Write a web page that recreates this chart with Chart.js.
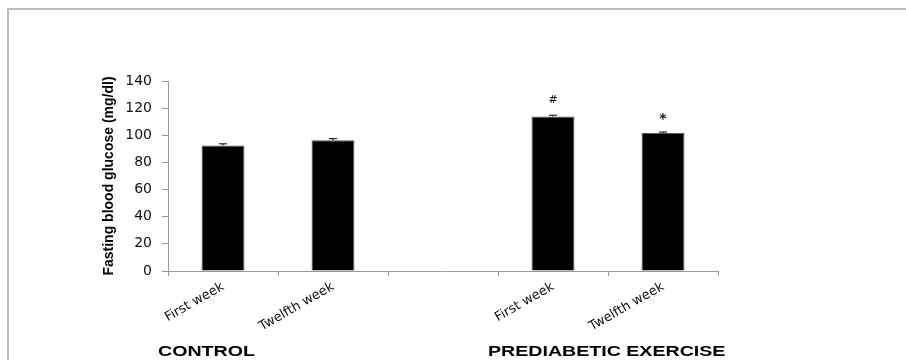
<!DOCTYPE html>
<html>
<head>
<meta charset="utf-8">
<script src="https://cdn.jsdelivr.net/npm/chart.js@4.4.0/dist/chart.umd.min.js"></script>
<style>
  html, body { margin: 0; padding: 0; background: #fff; }
  #wrap { width: 906px; height: 360px; position: relative; }
</style>
</head>
<body>
<div id="wrap"><canvas id="glucoseChart"></canvas></div>
<script>
// categories (blank slot separates the two groups)
const weeks = ['First week', 'Twelfth week', '', 'First week', 'Twelfth week'];
const glucose = [92.5, 96.3, null, 113.8, 101.6];
const sem = [1.2, 1.2, null, 1.0, 0.8];
const marks = ['', '', '', '#', '*'];
const groups = [
    { label: 'CONTROL', from: 0 },
    { label: 'PREDIABETIC EXERCISE', from: 3 }
];
const yTicks = [0, 20, 40, 60, 80, 100, 120, 140];

// thin frame round the figure
const framePlugin = {
    id: 'frame',
    beforeDraw(chart) {
        const c = chart.ctx;
        c.save();
        c.strokeStyle = '#bdbdbd';
        c.lineWidth = 2;
        c.beginPath();
        c.moveTo(8, 360);
        c.lineTo(8, 9);
        c.lineTo(906, 9);
        c.stroke();
        c.restore();
    }
};

// error bars, significance marks and group names
const extrasPlugin = {
    id: 'extras',
    afterDatasetsDraw(chart) {
        const c = chart.ctx;
        const x = chart.scales.x;
        const y = chart.scales.y;
        c.save();
        c.strokeStyle = '#000';
        c.lineWidth = 1;
        glucose.forEach((v, i) => {
            if (v === null) return;
            const px = x.getPixelForValue(i);
            const top = y.getPixelForValue(v + sem[i]);
            const base = y.getPixelForValue(v);
            c.beginPath();
            c.moveTo(px, base);
            c.lineTo(px, top);
            c.moveTo(px - 4, top);
            c.lineTo(px + 4, top);
            c.stroke();
            if (marks[i]) {
                c.fillStyle = '#111';
                c.font = (marks[i] === '*' ? 'bold 14px' : '11px') + ' "DejaVu Sans"';
                c.textAlign = 'center';
                c.textBaseline = 'middle';
                c.fillText(marks[i], px, top - (marks[i] === '*' ? 13 : 15));
            }
        });
        // group names, drawn a little wider like the original figure
        c.fillStyle = '#000';
        c.font = 'bold 14px "Liberation Sans", Arial';
        c.textAlign = 'left';
        c.textBaseline = 'alphabetic';
        groups.forEach(g => {
            const left = x.getPixelForValue(g.from) - 65;
            c.save();
            c.translate(left, 356);
            c.scale(1.4, 1);
            c.fillText(g.label, 0, 0);
            c.restore();
        });
        c.restore();
    }
};

new Chart(document.getElementById('glucoseChart'), {
    type: 'bar',
    data: {
        labels: weeks,
        datasets: [{
            data: glucose,
            backgroundColor: '#000',
            borderColor: '#555',
            borderWidth: 1,
            categoryPercentage: 1,
            barPercentage: 0.39
        }]
    },
    options: {
        responsive: true,
        maintainAspectRatio: false,
        animation: false,
        layout: { padding: { left: 101, right: 188, top: 81, bottom: 0 } },
        plugins: {
            legend: { display: false },
            tooltip: { enabled: false }
        },
        scales: {
            x: {
                offset: true,
                afterFit(scale) { scale.height = 89; },
                grid: {
                    offset: true,
                    drawOnChartArea: false,
                    drawTicks: true,
                    tickLength: 5,
                    color: '#999'
                },
                border: { color: '#999', width: 1 },
                ticks: {
                    color: '#111',
                    font: { family: '"DejaVu Sans"', size: 13 },
                    minRotation: 30,
                    maxRotation: 30,
                    padding: 3
                }
            },
            y: {
                min: 0,
                max: 140,
                afterFit(scale) { scale.width = 67; },
                afterBuildTicks(scale) {
                    scale.ticks = yTicks.map(v => ({ value: v }));
                },
                grid: {
                    drawOnChartArea: false,
                    drawTicks: true,
                    tickLength: 6,
                    color: '#999'
                },
                border: { color: '#999', width: 1 },
                ticks: {
                    color: '#111',
                    font: { family: '"DejaVu Sans"', size: 14 },
                    padding: 10
                },
                title: {
                    display: true,
                    text: 'Fasting blood glucose (mg/dl)',
                    color: '#000',
                    font: { family: '"Liberation Sans", Arial', size: 14, weight: 'bold' },
                    padding: { top: 0, bottom: 4 }
                }
            }
        }
    },
    plugins: [framePlugin, extrasPlugin]
});
</script>
</body>
</html>
